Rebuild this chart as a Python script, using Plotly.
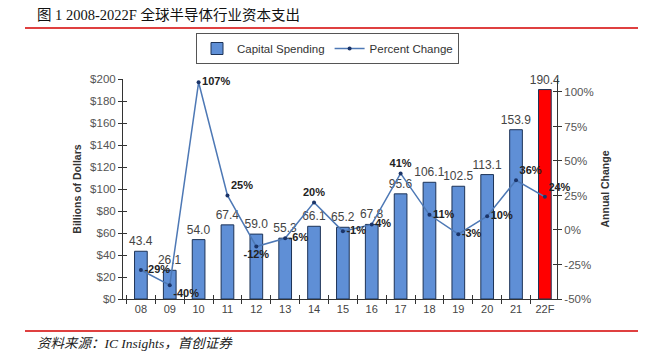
import plotly.graph_objects as go

years = ["08", "09", "10", "11", "12", "13", "14", "15", "16", "17", "18", "19", "20", "21", "22F"]
capital_spending = [43.4, 26.1, 54.0, 67.4, 59.0, 55.3, 66.1, 65.2, 67.8, 95.6, 106.1, 102.5, 113.1, 153.9, 190.4]
percent_change = [-29, -40, 107, 25, -12, -6, 20, -1, 4, 41, 11, -3, 10, 36, 24]
pct_label_pos = ["middle right", "bottom right", "middle right", "top right", "bottom center",
                 "middle right", "top center", "middle right", "middle right", "top center",
                 "middle right", "middle right", "middle right", "top right", "top right"]
left_ticks = list(range(0, 201, 20))
right_ticks = list(range(-50, 101, 25))

OFF = 8  # page body margin
W, H = 646 - OFF, 363 - OFF
L, R, T, B = 123 - OFF, 557 - OFF, 79 - OFF, 299 - OFF
pw, ph = R - L, B - T
def px(x): return (x - OFF - L) / pw
def py(y): return (B - (y - OFF)) / ph

bar_colors = ["#5f8fd6"] * (len(years) - 1) + ["#ff0000"]

fig = go.Figure()
fig.add_trace(go.Bar(
    x=years, y=capital_spending, name="Capital Spending",
    marker=dict(color=bar_colors, line=dict(color="#1d3357", width=1)),
    width=0.44,
    text=capital_spending, texttemplate="%{y:.1f}", textposition="outside",
    constraintext="none",
    textfont=dict(family="Liberation Sans, Arial", size=12, color="#444444"),
    cliponaxis=False,
))
fig.add_trace(go.Scatter(
    x=years, y=percent_change, name="Percent Change", yaxis="y2",
    mode="lines+markers+text",
    line=dict(color="#4d78b5", width=1.5),
    marker=dict(color="#1b3468", size=4),
    text=[f"{v}%" for v in percent_change], textposition=pct_label_pos,
    textfont=dict(family="Liberation Sans, Arial", size=11, color="#222222", weight="bold"),
    cliponaxis=False,
))

xr = [-0.62, 14.42]
rr = [-50, 109.4]
fig.update_layout(
    width=W, height=H,
    margin=dict(l=L, r=W - R, t=T, b=H - B, autoexpand=False),
    paper_bgcolor="white", plot_bgcolor="white",
    font=dict(family="Liberation Sans, Arial", color="#444444"),
    showlegend=True,
    legend=dict(orientation="h", x=px(196), y=py(33), xanchor="left", yanchor="top",
                bordercolor="#555555", borderwidth=1, bgcolor="white",
                font=dict(size=11.5, color="#333333"), tracegroupgap=0,
                entrywidth=0, indentation=0),
    xaxis=dict(type="category", range=xr, showline=True, linecolor="#333333", linewidth=1,
               ticks="outside", tickson="boundaries", ticklen=4, tickcolor="#333333",
               tickfont=dict(size=11, color="#444444"), showgrid=False, zeroline=False),
    xaxis2=dict(overlaying="x", anchor="y", range=xr, showline=False, ticks="inside",
                tickmode="array", tickvals=[i - 0.5 for i in range(len(years) + 1)],
                ticklen=4, tickcolor="#333333", showticklabels=False, showgrid=False,
                zeroline=False),
    yaxis=dict(range=[0, 200], tickvals=left_ticks, ticktext=[f"${v}" for v in left_ticks],
               showline=True, linecolor="#333333", linewidth=1, ticks="outside", ticklen=4,
               tickcolor="#333333", tickfont=dict(size=11.5, color="#555555"),
               showgrid=False, zeroline=False,
               title=dict(text="<b>Billions of Dollars</b>", font=dict(size=10.5, color="#333333"),
                          standoff=6)),
    yaxis2=dict(overlaying="y", side="right", anchor="x", range=rr, tickvals=right_ticks,
                ticktext=[f"{v}%" for v in right_ticks], showline=True, linecolor="#333333",
                linewidth=1, ticks="outside", ticklen=4, tickcolor="#333333",
                tickfont=dict(size=11.5, color="#555555"), showgrid=False, zeroline=False,
                title=dict(text="<b>Annual Change</b>", font=dict(size=10.5, color="#333333"),
                           standoff=8)),
    yaxis3=dict(overlaying="y", side="left", anchor="x", range=[0, 200], tickvals=left_ticks,
                ticks="inside", ticklen=4, tickcolor="#333333", showticklabels=False,
                showgrid=False, zeroline=False, showline=False),
    yaxis4=dict(overlaying="y", side="right", anchor="x", range=rr, tickvals=right_ticks,
                ticks="inside", ticklen=4, tickcolor="#333333", showticklabels=False,
                showgrid=False, zeroline=False, showline=False),
    title=dict(text="图 1 2008-2022F 全球半导体行业资本支出", x=(37 - OFF) / W, xref="container",
               xanchor="left", y=1 - (15 - OFF) / H, yref="container", yanchor="middle",
               font=dict(family="Liberation Serif, Noto Sans CJK SC", size=14.5, color="#111111")),
    shapes=[
        dict(type="line", xref="paper", yref="paper", x0=px(25), x1=px(660), y0=py(28), y1=py(28),
             line=dict(color="#d40000", width=1.5)),
        dict(type="line", xref="paper", yref="paper", x0=px(25), x1=px(660), y0=py(331), y1=py(331),
             line=dict(color="#d40000", width=1.5)),
    ],
    annotations=[
        dict(text="<i>资料来源：IC Insights，首创证券</i>", xref="paper", yref="paper",
             x=px(35), y=py(343), xanchor="left", yanchor="middle", showarrow=False,
             font=dict(family="Liberation Serif, Noto Sans CJK SC", size=13.5, color="#222222")),
    ],
)
# invisible traces so the overlay tick axes render
fig.add_trace(go.Scatter(x=[0], y=[0], xaxis="x2", yaxis="y3", mode="markers",
                         marker=dict(opacity=0), showlegend=False, hoverinfo="skip"))
fig.add_trace(go.Scatter(x=[0], y=[0], xaxis="x2", yaxis="y4", mode="markers",
                         marker=dict(opacity=0), showlegend=False, hoverinfo="skip"))

fig.write_html("out.html")
